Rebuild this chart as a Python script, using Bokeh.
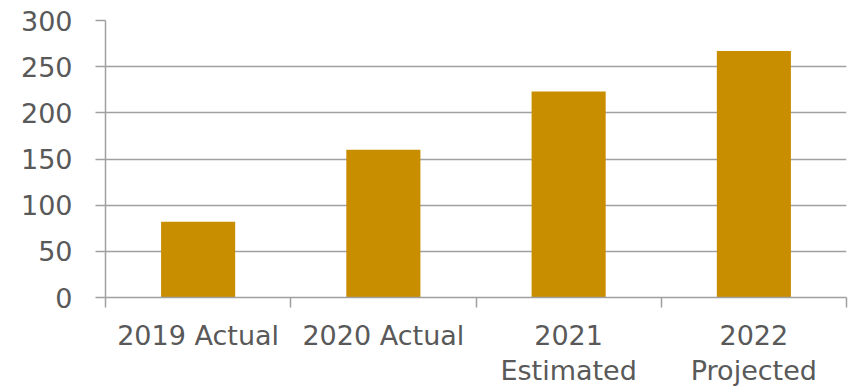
from bokeh.plotting import figure
from bokeh.models import FixedTicker, Range1d
from bokeh.embed import file_html
from bokeh.resources import INLINE

categories = ["2019 Actual", "2020 Actual", "2021\nEstimated", "2022\nProjected"]
values = [82, 160, 223, 267]
y_ticks = [0, 50, 100, 150, 200, 250, 300]

n = len(categories)
centers = [i + 0.5 for i in range(n)]

FONT = "DejaVu Sans"
TEXT = "#595959"
GRID = "#A0A0A0"
BAR = "#C98E00"

p = figure(width=852, height=389, output_backend="svg", toolbar_location=None,
           x_range=Range1d(0, n), y_range=Range1d(0, 300),
           min_border_left=105, min_border_right=6, min_border_top=20, min_border_bottom=91)
p.outline_line_color = None
p.background_fill_color = "white"
p.border_fill_color = "white"

p.vbar(x=centers, top=values, width=0.4, color=BAR, line_color=None)

p.yaxis.ticker = FixedTicker(ticks=y_ticks, minor_ticks=[])
p.yaxis.axis_line_color = GRID
p.yaxis.axis_line_width = 1.5
p.yaxis.major_tick_line_color = GRID
p.yaxis.major_tick_line_width = 1.5
p.yaxis.major_tick_out = 10
p.yaxis.major_tick_in = 0
p.yaxis.minor_tick_line_color = None
p.yaxis.major_label_text_font = FONT
p.yaxis.major_label_text_font_size = "27px"
p.yaxis.major_label_text_color = TEXT
p.yaxis.major_label_standoff = 23

p.xaxis.ticker = FixedTicker(ticks=centers, minor_ticks=list(range(n + 1)))
p.xaxis.major_label_overrides = {c: lab for c, lab in zip(centers, categories)}
p.xaxis.axis_line_color = GRID
p.xaxis.axis_line_width = 1.5
p.xaxis.major_tick_line_color = None
p.xaxis.minor_tick_line_color = GRID
p.xaxis.minor_tick_line_width = 1.5
p.xaxis.minor_tick_out = 10
p.xaxis.minor_tick_in = 0
p.xaxis.major_tick_out = 10
p.xaxis.major_tick_in = 0
p.xaxis.major_label_text_font = FONT
p.xaxis.major_label_text_font_size = "27px"
p.xaxis.major_label_text_color = TEXT
p.xaxis.major_label_text_line_height = 1.16
p.xaxis.major_label_standoff = 12
p.xaxis.major_label_orientation = "horizontal"

p.xgrid.grid_line_color = None
p.ygrid.ticker = FixedTicker(ticks=y_ticks)
p.ygrid.grid_line_color = GRID
p.ygrid.grid_line_width = 1.5

open("out.html", "w").write(file_html(p, INLINE))
